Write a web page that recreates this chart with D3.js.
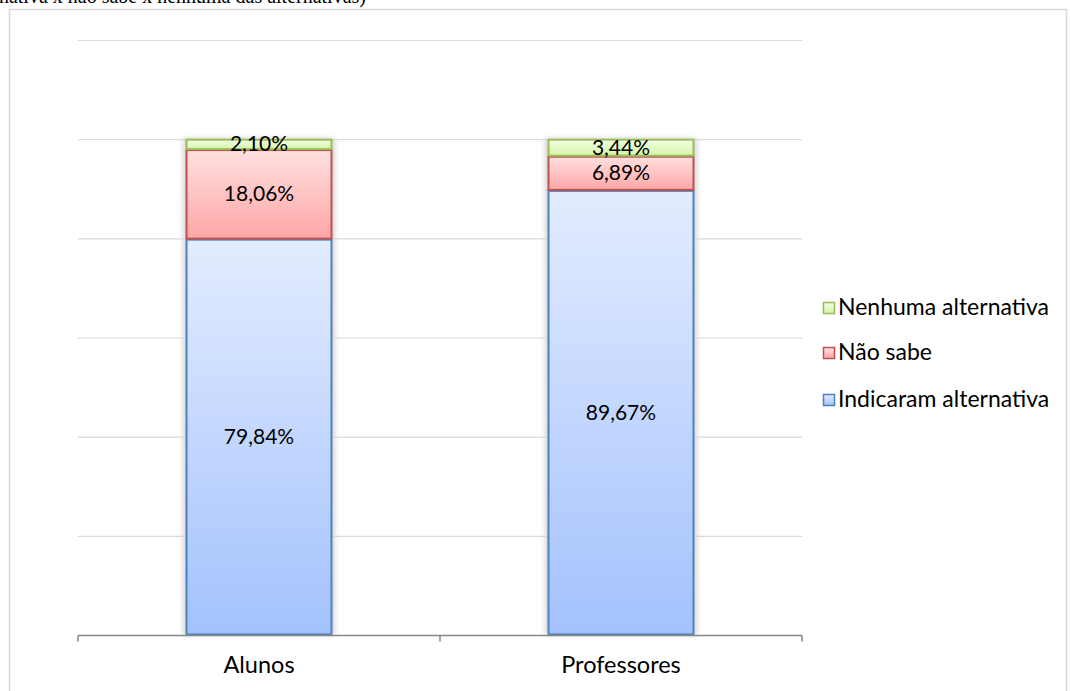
<!DOCTYPE html>
<html>
<head>
<meta charset="utf-8">
<script src="https://cdn.jsdelivr.net/npm/d3@7"></script>
<style>
  html, body { margin: 0; padding: 0; background: #fff; }
  svg { display: block; }
</style>
</head>
<body>
<svg id="chart" width="1070" height="691"></svg>
<script>
// Categories and stacked series (percentages)
const categories = ["Alunos", "Professores"];
const seriesNames = ["Indicaram alternativa", "Não sabe", "Nenhuma alternativa"];
const indicaram = [79.84, 89.67];
const naoSabe = [18.06, 6.89];
const nenhuma = [2.10, 3.44];
const yTicks = [0, 20, 40, 60, 80, 100, 120];
const headerText = "nativa x não sabe x nenhuma das alternativas)";

const rows = categories.map((c, i) => ({
  cat: c,
  "Indicaram alternativa": indicaram[i],
  "Não sabe": naoSabe[i],
  "Nenhuma alternativa": nenhuma[i]
}));

const styles = {
  "Indicaram alternativa": { top: "#e3ecff", bottom: "#a3c2fd", stroke: "#4f81bd", id: "gBlue" },
  "Não sabe": { top: "#ffe0e0", bottom: "#ffa6a6", stroke: "#c0504d", id: "gRed" },
  "Nenhuma alternativa": { top: "#f3ffe6", bottom: "#d5f5a8", stroke: "#9bbb59", id: "gGreen" }
};

const svg = d3.select("#chart");
const font = "Lato, 'Open Sans', sans-serif";

const defs = svg.append("defs");
Object.values(styles).forEach(s => {
  const g = defs.append("linearGradient").attr("id", s.id)
    .attr("x1", 0).attr("y1", 0).attr("x2", 0).attr("y2", 1);
  g.append("stop").attr("offset", "0%").attr("stop-color", s.top);
  g.append("stop").attr("offset", "100%").attr("stop-color", s.bottom);
});
const sh = defs.append("filter").attr("id", "shadow")
  .attr("x", "-20%").attr("y", "-5%").attr("width", "140%").attr("height", "110%");
sh.append("feGaussianBlur").attr("in", "SourceGraphic").attr("stdDeviation", 2.5);

// Header text line above the chart frame
svg.append("text")
  .attr("x", 366).attr("y", 3)
  .attr("text-anchor", "end")
  .attr("font-family", "'Liberation Serif', 'DejaVu Serif', serif")
  .attr("font-size", 20)
  .attr("fill", "#000")
  .text(headerText);

// Chart frame
svg.append("rect")
  .attr("x", 9.5).attr("y", 9.5).attr("width", 1057).attr("height", 700)
  .attr("fill", "none").attr("stroke", "#d9d9d9").attr("stroke-width", 1.5);

const plotLeft = 78, plotRight = 802, plotTop = 40, plotBottom = 635;

const x = d3.scaleBand().domain(categories).range([plotLeft, plotRight]).paddingInner(0.5967).paddingOuter(0.2984);
const y = d3.scaleLinear().domain([0, 120]).range([plotBottom, plotTop]);

// Gridlines
svg.append("g")
  .selectAll("line")
  .data(yTicks.filter(t => t > 0))
  .join("line")
  .attr("x1", plotLeft).attr("x2", plotRight)
  .attr("y1", d => y(d) + 0.5).attr("y2", d => y(d) + 0.5)
  .attr("stroke", "#d9d9d9").attr("stroke-width", 1.2);

// Stacked bars
const stack = d3.stack().keys(seriesNames);
const stacked = stack(rows);

const barG = svg.append("g");
// soft grey halo behind each full bar
barG.selectAll("rect.shadow")
  .data(rows)
  .join("rect")
  .attr("class", "shadow")
  .attr("x", d => x(d.cat) - 3)
  .attr("width", x.bandwidth() + 6)
  .attr("y", y(100) - 1)
  .attr("height", y(0) - y(100) + 1)
  .attr("fill", "#d6d6d6")
  .attr("filter", "url(#shadow)");

stacked.forEach(layer => {
  const s = styles[layer.key];
  barG.append("g").selectAll("rect")
    .data(layer)
    .join("rect")
    .attr("x", d => x(d.data.cat) + 0.5)
    .attr("width", x.bandwidth() - 1)
    .attr("y", d => y(d[1]) + 0.5)
    .attr("height", d => y(d[0]) - y(d[1]) - 1)
    .attr("fill", `url(#${s.id})`)
    .attr("stroke", s.stroke)
    .attr("stroke-width", 2);
});

// Value labels
const fmt = v => v.toFixed(2).replace(".", ",") + "%";
stacked.forEach(layer => {
  svg.append("g").selectAll("text")
    .data(layer)
    .join("text")
    .attr("x", d => x(d.data.cat) + x.bandwidth() / 2)
    .attr("y", d => (y(d[0]) + y(d[1])) / 2 + 1.5)
    .attr("text-anchor", "middle")
    .attr("dominant-baseline", "middle")
    .attr("font-family", font)
    .attr("font-size", 21)
    .attr("fill", "#000")
    .text(d => fmt(d[1] - d[0]));
});

// X axis
const xAxis = svg.append("g").attr("transform", `translate(0,${plotBottom + 0.5})`);
xAxis.append("line").attr("x1", plotLeft).attr("x2", plotRight).attr("stroke", "#868686").attr("stroke-width", 1.5);
const edges = [plotLeft].concat(categories.map(c => x(c) + x.bandwidth() / 2 + x.step() / 2));
xAxis.selectAll("line.tick")
  .data(edges)
  .join("line")
  .attr("class", "tick")
  .attr("x1", d => d).attr("x2", d => d)
  .attr("y1", 0).attr("y2", 6)
  .attr("stroke", "#868686").attr("stroke-width", 1.5);
xAxis.selectAll("text")
  .data(categories)
  .join("text")
  .attr("x", d => x(d) + x.bandwidth() / 2)
  .attr("y", 37)
  .attr("text-anchor", "middle")
  .attr("font-family", font)
  .attr("font-size", 23.5)
  .attr("fill", "#000")
  .text(d => d);

// Legend (top series first)
const legendItems = seriesNames.slice().reverse();
const legendY = [308, 353, 400];
const lg = svg.append("g");
legendItems.forEach((name, i) => {
  const s = styles[name];
  const g = lg.append("g").attr("transform", `translate(823,${legendY[i]})`);
  g.append("rect").attr("x", 0.5).attr("y", -5.5).attr("width", 11).attr("height", 11)
    .attr("fill", `url(#${s.id})`).attr("stroke", s.stroke).attr("stroke-width", 1.5);
  g.append("text").attr("x", 15).attr("y", 1.5)
    .attr("dominant-baseline", "middle")
    .attr("font-family", font).attr("font-size", 23).attr("fill", "#000")
    .text(name);
});
</script>
</body>
</html>
